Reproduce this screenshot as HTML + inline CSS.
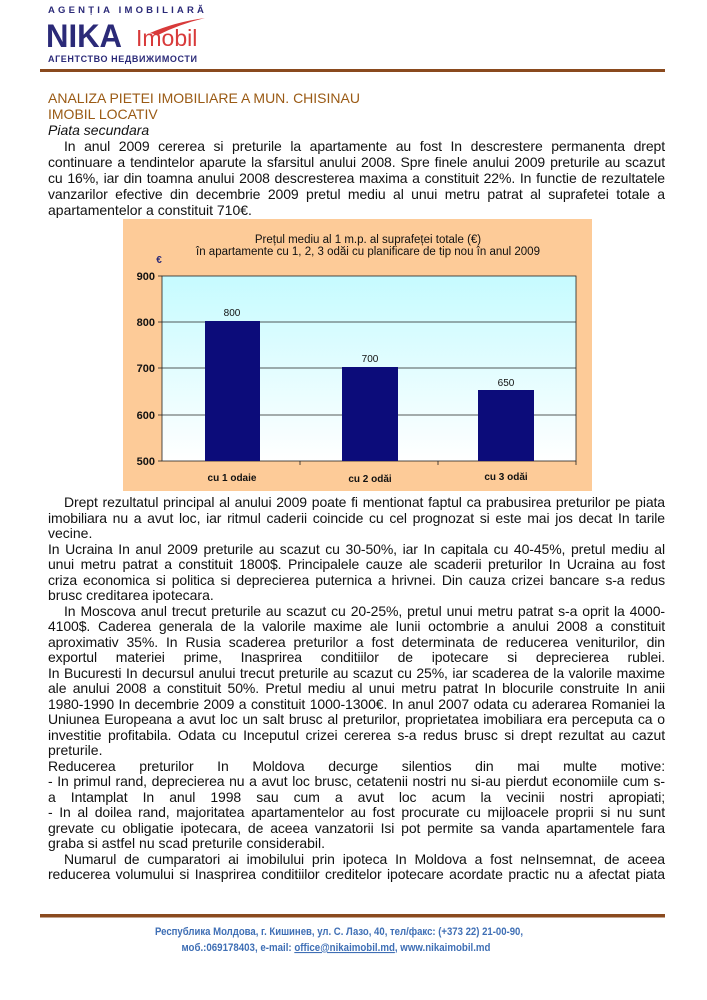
<!DOCTYPE html>
<html><head><meta charset="utf-8"><style>
html,body{margin:0;padding:0;background:#fff;}
body{position:relative;width:707px;height:1000px;overflow:hidden;}
svg{position:absolute;left:0;top:0;display:block;font-family:"Liberation Sans",Arial,sans-serif;}
.l{position:absolute;left:48px;width:617px;font:14px/16px "Liberation Sans",Arial,sans-serif;color:#111;white-space:normal;}
.j{text-align:justify;text-align-last:justify;letter-spacing:-0.1px;}
.i{left:64px;width:601px;}
</style></head><body>
<svg width="707" height="1000" viewBox="0 0 707 1000" xmlns="http://www.w3.org/2000/svg">
<defs>
<linearGradient id="pg" x1="0" y1="0" x2="0" y2="1">
<stop offset="0" stop-color="#c6fbff"/><stop offset="1" stop-color="#ffffff"/>
</linearGradient>
</defs>
<text x="48" y="13" font-size="9.5" font-weight="bold" fill="#2b2a78" letter-spacing="3.2">AGENȚIA  IMOBILIARĂ</text>
<text x="46" y="47" font-size="32" font-weight="bold" fill="#2b2a78" textLength="76" lengthAdjust="spacingAndGlyphs">NIKA</text>
<path d="M150 33 Q175 22 205 18 Q180 24 158 35 Z" fill="#d83a3a"/>
<text x="136" y="46" font-size="23" fill="#d83a3a">Imobil</text>
<text x="48" y="62" font-size="9" font-weight="bold" fill="#2b2a78" letter-spacing="0.6">АГЕНТСТВО НЕДВИЖИМОСТИ</text>
<rect x="40" y="69" width="625" height="3" fill="#8a4a1e"/>

<rect x="123" y="219" width="469" height="272" fill="#fdcb98"/>
<text x="368" y="243" font-size="11.5" text-anchor="middle" fill="#111">Prețul mediu al 1 m.p. al suprafeței totale (€)</text>
<text x="368" y="255" font-size="11.5" text-anchor="middle" fill="#111">în apartamente cu 1, 2, 3 odăi cu planificare de tip nou în anul 2009</text>
<text x="159" y="263" font-size="10" font-weight="bold" fill="#2b2a78" text-anchor="middle">€</text>
<rect x="162" y="276" width="414" height="185" fill="url(#pg)" stroke="#222" stroke-width="0.8"/>
<g stroke="#222" stroke-width="0.8">
<line x1="162" y1="322" x2="576" y2="322"/>
<line x1="162" y1="368" x2="576" y2="368"/>
<line x1="162" y1="415" x2="576" y2="415"/>
<line x1="158" y1="276" x2="162" y2="276"/><line x1="158" y1="322" x2="162" y2="322"/>
<line x1="158" y1="368" x2="162" y2="368"/><line x1="158" y1="415" x2="162" y2="415"/>
<line x1="158" y1="461" x2="162" y2="461"/>
<line x1="300" y1="461" x2="300" y2="465"/><line x1="438" y1="461" x2="438" y2="465"/><line x1="576" y1="461" x2="576" y2="465"/>
</g>
<g fill="#0c0c7a">
<rect x="205" y="321" width="55" height="140"/>
<rect x="342" y="367" width="56" height="94"/>
<rect x="478" y="390" width="56" height="71"/>
</g>
<g font-size="11" font-weight="bold" text-anchor="end" fill="#111">
<text x="155" y="280">900</text><text x="155" y="326">800</text><text x="155" y="372">700</text>
<text x="155" y="419">600</text><text x="155" y="465">500</text>
</g>
<g font-size="10" text-anchor="middle" fill="#111">
<text x="232" y="316">800</text><text x="370" y="362">700</text><text x="506" y="386">650</text>
</g>
<g font-size="10" font-weight="bold" text-anchor="middle" fill="#111">
<text x="232" y="481">cu 1 odaie</text><text x="370" y="482">cu 2 odăi</text><text x="506" y="480">cu 3 odăi</text>
</g>

<rect x="40" y="914" width="625" height="3.5" fill="#8a4a1e"/>
<g font-size="11" font-weight="bold" fill="#3f6fb5" text-anchor="middle">
<text x="339" y="935" textLength="368" lengthAdjust="spacingAndGlyphs">Республика Молдова, г. Кишинев, ул. С. Лазо, 40, тел/факс: (+373 22) 21-00-90,</text>
<text x="336" y="951" textLength="309" lengthAdjust="spacingAndGlyphs">моб.:069178403, e-mail: <tspan text-decoration="underline">office@nikaimobil.md</tspan>, www.nikaimobil.md</text>
</g>
</svg>

<div class="l" style="top:90px;color:#9a5a14">ANALIZA PIETEI IMOBILIARE A MUN. CHISINAU</div>
<div class="l" style="top:106px;color:#9a5a14">IMOBIL LOCATIV</div>
<div class="l" style="top:122px;font-style:italic">Piata secundara</div>
<div class="l j i" style="top:138px">In anul 2009 cererea si preturile la apartamente au fost In descrestere permanenta drept</div>
<div class="l j" style="top:154px">continuare a tendintelor aparute la sfarsitul anului 2008. Spre finele anului 2009 preturile au scazut</div>
<div class="l j" style="top:170px">cu 16%, iar din toamna anului 2008 descresterea maxima a constituit 22%. In functie de rezultatele</div>
<div class="l j" style="top:186px">vanzarilor efective din decembrie 2009 pretul mediu al unui metru patrat al suprafetei totale a</div>
<div class="l" style="top:202px">apartamentelor a constituit 710€.</div>

<div class="l j i" style="top:494px">Drept rezultatul principal al anului 2009 poate fi mentionat faptul ca prabusirea preturilor pe piata</div>
<div class="l j" style="top:509.5px">imobiliara nu a avut loc, iar ritmul caderii coincide cu cel prognozat si este mai jos decat In tarile</div>
<div class="l" style="top:525px">vecine.</div>
<div class="l j" style="top:540.5px">In Ucraina In anul 2009 preturile au scazut cu 30-50%, iar In capitala cu 40-45%, pretul mediu al</div>
<div class="l j" style="top:556px">unui metru patrat a constituit 1800$. Principalele cauze ale scaderii preturilor In Ucraina au fost</div>
<div class="l j" style="top:571.5px">criza economica si politica si deprecierea puternica a hrivnei. Din cauza crizei bancare s-a redus</div>
<div class="l" style="top:587px">brusc creditarea ipotecara.</div>
<div class="l j i" style="top:602.5px">In Moscova anul trecut preturile au scazut cu 20-25%, pretul unui metru patrat s-a oprit la 4000-</div>
<div class="l j" style="top:618px">4100$. Caderea generala de la valorile maxime ale lunii octombrie a anului 2008 a constituit</div>
<div class="l j" style="top:633.5px">aproximativ 35%. In Rusia scaderea preturilor a fost determinata de reducerea veniturilor, din</div>
<div class="l j" style="top:649px">exportul materiei prime, Inasprirea conditiilor de ipotecare si deprecierea rublei.</div>
<div class="l j" style="top:664.5px">In Bucuresti In decursul anului trecut preturile au scazut cu 25%, iar scaderea de la valorile maxime</div>
<div class="l j" style="top:680px">ale anului 2008 a constituit 50%. Pretul mediu al unui metru patrat In blocurile construite In anii</div>
<div class="l j" style="top:695.5px">1980-1990 In decembrie 2009 a constituit 1000-1300€. In anul 2007 odata cu aderarea Romaniei la</div>
<div class="l j" style="top:711px">Uniunea Europeana a avut loc un salt brusc al preturilor, proprietatea imobiliara era perceputa ca o</div>
<div class="l j" style="top:726.5px">investitie profitabila. Odata cu Inceputul crizei cererea s-a redus brusc si drept rezultat au cazut</div>
<div class="l" style="top:742px">preturile.</div>
<div class="l j" style="top:757.5px">Reducerea preturilor In Moldova decurge silentios din mai multe motive:</div>
<div class="l j" style="top:773px">- In primul rand, deprecierea nu a avut loc brusc, cetatenii nostri nu si-au pierdut economiile cum s-</div>
<div class="l j" style="top:788.5px">a Intamplat In anul 1998 sau cum a avut loc acum la vecinii nostri apropiati;</div>
<div class="l j" style="top:804px">- In al doilea rand, majoritatea apartamentelor au fost procurate cu mijloacele proprii si nu sunt</div>
<div class="l j" style="top:819.5px">grevate cu obligatie ipotecara, de aceea vanzatorii Isi pot permite sa vanda apartamentele fara</div>
<div class="l" style="top:835px">graba si astfel nu scad preturile considerabil.</div>
<div class="l j i" style="top:850.5px">Numarul de cumparatori ai imobilului prin ipoteca In Moldova a fost neInsemnat, de aceea</div>
<div class="l j" style="top:866px">reducerea volumului si Inasprirea conditiilor creditelor ipotecare acordate practic nu a afectat piata</div>
</body></html>
